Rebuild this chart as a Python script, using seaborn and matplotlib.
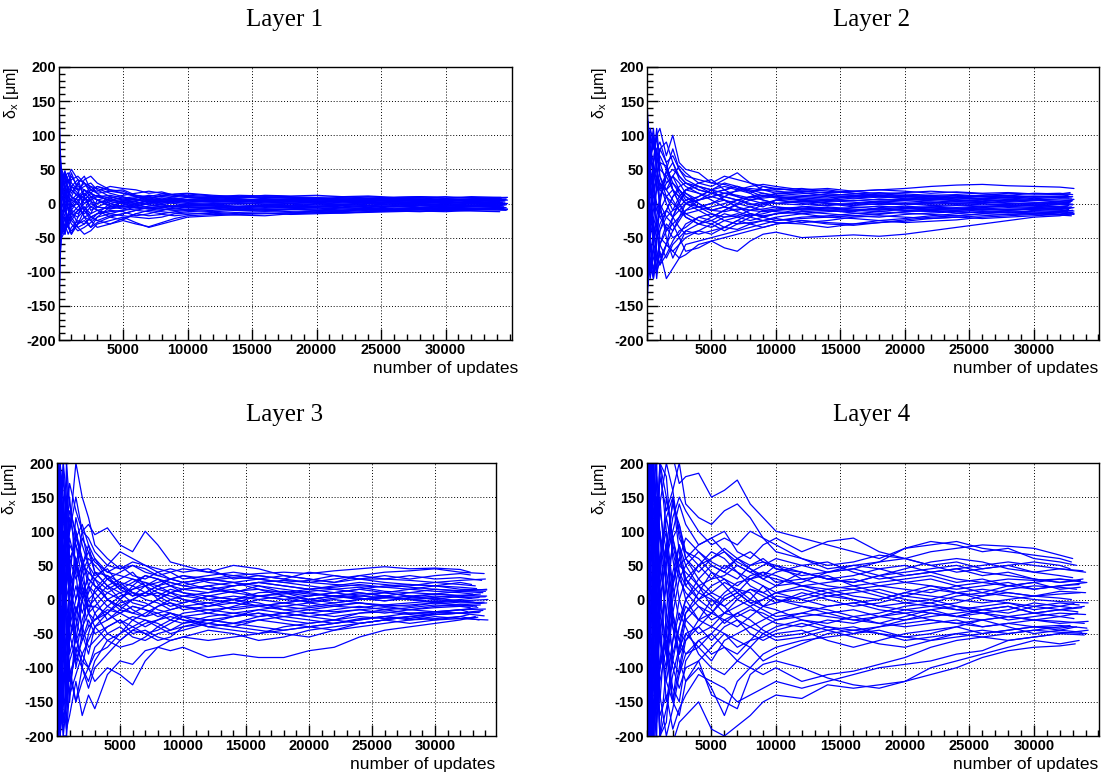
import numpy as np
import pandas as pd
import matplotlib
matplotlib.use("Agg")
import matplotlib.pyplot as plt
from matplotlib.ticker import MultipleLocator, FixedLocator
import seaborn as sns

# ---------------- data (read/estimated from the picture) ----------------
layer_titles = ["Layer 1", "Layer 2", "Layer 3", "Layer 4"]
update_grid = [0, 100, 250, 500, 750, 1000, 1500, 2000, 2500, 3000, 4000, 5000, 6000,
               7000, 8000, 9000, 10000, 12000, 14000, 16000, 18000, 20000, 22000,
               24000, 26000, 28000, 30000, 32000]

layer1_ends = [34600, 34200, 34800, 34500, 34300, 34700, 34400, 34600, 34100, 34800, 34500, 34300,
               34700, 34200, 34600, 34400, 34800, 34500, 34100, 34700, 34300, 34600, 34400, 34800,
               34500, 34700, 34300, 34600, 34800, 34200, 34500, 34700, 34400, 34600]
layer1_series = [
    [250, 60, 35, 48, 30, 40, 25, 20, 15, 10, 12, 8, 10, 5, 6, 8, 5, 6, 4, 7, 5, 6, 4, 5, 3, 4, 2, 3, 2],
    [-260, -80, -40, -30, -45, -35, -25, -30, -20, -15, -12, -10, -8, -6, -5, -8, -6, -5, -7, -4, -6, -5, -4, -6, -3, -5, -4, -3, -5],
    [180, 40, 20, 10, 25, 15, 30, 40, 20, 18, 25, 22, 20, 15, 17, 12, 10, 8, 10, 7, 6, 8, 6, 5, 7, 6, 5, 4, 5],
    [-200, -50, -20, -10, -5, -20, -35, -45, -40, -30, -25, -20, -28, -35, -30, -25, -20, -18, -16, -15, -14, -12, -10, -8, -9, -7, -6, -5, -4],
    [120, 30, 50, 35, 20, 10, 5, 12, 25, 22, 15, 10, 5, 8, 12, 10, 12, 10, 12, 11, 10, 9, 10, 8, 9, 10, 8, 9, 7],
    [-150, -30, -10, 20, 5, -10, -15, -5, -20, -25, -30, -22, -15, -10, -12, -14, -12, -10, -8, -10, -12, -13, -14, -12, -10, -11, -9, -8, -10],
    [300, 20, 10, -5, 10, 25, 15, 0, 5, 10, 5, 2, 0, 4, 3, 5, 4, 2, 3, 1, 2, 3, 1, 2, 0, 1, 2, 0, 1],
    [-300, -40, 5, 15, -10, -5, 10, 20, 10, 5, -5, -8, -3, 0, -2, -4, -3, -2, 0, -1, -2, 0, -1, 1, -1, 0, -1, 0, -1],
    [90, 10, -15, -25, -35, -40, -30, -20, -25, -15, -10, -12, -18, -15, -10, -5, -3, -2, -5, -4, -3, -5, -6, -4, -5, -3, -4, -2, -3],
    [-90, 15, 30, 40, 45, 30, 20, 25, 30, 20, 10, 5, 8, 12, 10, 14, 15, 12, 10, 9, 8, 7, 9, 10, 8, 9, 10, 8, 9],
    [60, 25, 40, 20, 5, 0, -10, -15, -5, 0, 5, 3, 6, 2, 0, 3, 2, 4, 2, 3, 4, 2, 3, 4, 5, 4, 3, 5, 4],
    [-60, -20, -30, -45, -25, -15, -20, -10, 0, -5, -8, -5, -2, -6, -8, -10, -8, -7, -9, -8, -9, -10, -8, -9, -7, -8, -6, -7, -8],
    [200, 50, 25, 15, 0, -15, -5, 5, 15, 25, 20, 15, 12, 8, 5, 7, 9, 7, 5, 6, 4, 5, 7, 6, 4, 5, 6, 5, 6],
    [-180, -60, -35, -20, -30, -10, 5, -10, -25, -35, -30, -25, -30, -34, -28, -22, -18, -16, -17, -18, -15, -14, -13, -12, -11, -12, -10, -11, -12],
    [140, 45, 10, 30, 40, 50, 35, 10, -5, -10, -15, -10, -5, 0, 2, 0, -2, 0, 1, -1, 0, -2, -1, -3, -2, -1, -2, -3, -2],
    [-120, -10, -25, 5, 20, 35, 40, 30, 15, 5, 0, -5, 0, 5, 8, 5, 2, 3, 5, 3, 2, 1, 3, 2, 1, 2, 3, 1, 2],
    [40, -20, -45, -35, -15, 0, 10, 15, 5, -10, -20, -15, -10, -12, -15, -12, -10, -12, -10, -9, -8, -10, -11, -9, -10, -8, -9, -7, -8],
    [-40, 5, 15, -10, -20, -30, -40, -35, -28, -20, -15, -18, -20, -22, -20, -15, -14, -15, -13, -12, -13, -11, -12, -10, -11, -9, -10, -9, -7],
    [230, 70, 45, 25, 15, 20, 12, 8, 2, 0, 8, 12, 15, 18, 15, 13, 10, 9, 8, 10, 9, 8, 6, 7, 8, 6, 7, 6, 5],
    [-230, -70, -15, 0, 15, 10, 0, -20, -15, 5, 10, 5, 2, -2, -5, -3, 0, -2, -4, -3, -5, -4, -3, -5, -4, -6, -5, -4, -6],
    [80, 35, 20, 45, 35, 25, 20, 30, 25, 15, 18, 20, 12, 10, 14, 12, 14, 11, 9, 12, 11, 12, 10, 11, 9, 10, 8, 10, 9],
    [-80, -45, -50, -40, -25, -25, -10, 0, 10, 12, 8, 0, -5, -8, -10, -7, -5, -6, -8, -6, -7, -8, -6, -7, -5, -6, -7, -5, -6],
    [150, 0, -30, -15, 10, 5, 15, 35, 40, 30, 20, 18, 10, 3, -2, 2, 5, 4, 6, 4, 5, 3, 4, 2, 3, 1, 2, 1, 0],
    [-150, 20, 25, 0, -35, -45, -30, -25, -35, -28, -20, -24, -15, -18, -16, -18, -16, -13, -15, -14, -16, -15, -14, -13, -12, -11, -12, -10, -9],
    [270, 90, 40, 20, 35, 20, 10, 5, 15, 10, 5, 8, 5, 3, 6, 4, 2, 4, 3, 5, 4, 3, 5, 4, 6, 5, 4, 6, 5],
    [-270, -90, -40, -20, -35, -20, -10, -5, -15, -10, -5, -3, -6, -4, -2, -5, -4, -3, -5, -3, -4, -2, -3, -1, -2, -3, -2, -1, -2],
    [200, -30, -40, 10, 30, 45, 20, -10, -20, -15, 0, 5, 8, 10, 6, 4, 6, 8, 7, 5, 7, 6, 8, 7, 6, 7, 5, 6, 7],
    [-200, 30, 40, -10, -30, -45, -20, 10, 20, 15, 0, -5, -6, -8, -6, -4, -2, -4, -6, -7, -5, -6, -8, -7, -8, -9, -7, -8, -6],
    [110, 40, -20, -40, -20, 10, 30, 10, -10, -5, 3, 0, -2, 2, 4, 2, 0, 1, -1, 1, 0, 1, -1, 0, 1, -1, 0, 1, 0],
    [-110, -40, 20, 40, 20, -10, -30, -10, 10, 5, -3, 2, 4, 6, 4, 3, 5, 3, 2, 4, 3, 4, 2, 3, 2, 3, 1, 2, 3],
    [160, 20, 45, 30, -10, -25, -35, -30, -20, -25, -18, -15, -10, -6, -8, -10, -9, -8, -10, -11, -9, -8, -10, -8, -9, -7, -8, -9, -8],
    [-160, -20, -45, -30, 10, 25, 35, 30, 20, 25, 18, 15, 10, 8, 10, 8, 6, 8, 10, 9, 8, 7, 6, 8, 7, 8, 6, 7, 8],
    [50, -10, 30, 45, 15, -5, 0, 20, 10, -5, -8, -2, 3, -2, -5, -3, -5, -6, -4, -2, -3, -4, -2, -3, -4, -2, -3, -4, -3],
    [-50, 10, -30, -45, -15, 5, 0, -20, -35, -20, -5, 2, 0, 4, 2, 6, 5, 4, 6, 5, 6, 5, 4, 6, 5, 4, 6, 5, 4],
]

layer2_ends = [33000, 32700, 33100, 32900, 32600, 33000, 32800, 33100, 32700, 32900, 33000, 32600,
               33100, 32800, 32900, 33000, 32700, 33100, 32800, 32600, 33000, 32900, 32700, 33100,
               32900, 33000, 32700, 33100, 32800, 33000, 32600, 32900, 33100, 32800, 33000, 32700]
layer2_series = [
    [150, 110, 100, 80, 100, 110, 70, 100, 60, 50, 45, 30, 40, 35, 30, 25, 20, 22, 18, 15, 12, 10, 8, 9, 7, 8, 6, 5, 4],
    [-150, -110, -80, -100, -90, -70, -110, -95, -80, -60, -55, -50, -45, -40, -35, -30, -25, -22, -20, -18, -15, -12, -10, -12, -9, -10, -8, -9, -7],
    [100, 60, 110, 90, 60, 80, 90, 60, 40, 30, 20, 15, 10, 20, 25, 28, 25, 20, 22, 18, 20, 22, 25, 27, 28, 26, 25, 24, 22],
    [-100, -40, -60, -80, -100, -85, -60, -70, -80, -75, -60, -55, -65, -70, -55, -45, -42, -50, -48, -46, -48, -45, -40, -35, -30, -25, -20, -18, -15],
    [80, 110, 70, 40, 50, 30, 20, 40, 55, 45, 30, 25, 35, 45, 30, 20, 15, 18, 20, 15, 10, 12, 10, 8, 10, 9, 11, 10, 12],
    [-80, -100, -50, -20, -40, -60, -40, -30, -50, -70, -65, -55, -50, -45, -40, -35, -30, -25, -28, -30, -25, -22, -18, -15, -12, -14, -10, -12, -10],
    [130, 40, 20, 60, 80, 50, 40, 20, 10, 20, 30, 35, 20, 10, 5, 10, 15, 12, 10, 8, 5, 6, 4, 2, 3, 1, 0, 2, 1],
    [-130, -30, -10, -40, -70, -90, -75, -55, -40, -35, -20, -15, -25, -30, -28, -25, -20, -15, -12, -10, -8, -10, -12, -10, -8, -9, -7, -8, -6],
    [60, 20, -20, 10, 40, 60, 55, 30, 20, 10, 0, -10, -5, 5, 10, 5, 0, -2, 3, 5, 2, 0, -3, -2, -4, -3, -2, -4, -3],
    [-60, 0, 40, 20, -10, -20, -35, -50, -45, -30, -20, -25, -35, -38, -30, -25, -22, -28, -25, -20, -18, -20, -22, -20, -18, -16, -15, -17, -18],
    [110, 80, 50, 30, 0, -20, -10, 10, 25, 30, 25, 20, 15, 18, 22, 20, 18, 15, 12, 14, 16, 14, 12, 13, 11, 12, 10, 11, 10],
    [-110, -70, -100, -60, -30, -10, 10, 0, -10, -20, -30, -35, -25, -20, -15, -18, -15, -12, -15, -18, -20, -16, -14, -12, -13, -11, -12, -13, -12],
    [40, -40, -70, -50, -20, 10, 30, 40, 30, 15, 5, 10, 15, 12, 8, 12, 10, 8, 6, 4, 6, 5, 7, 5, 4, 6, 5, 7, 6],
    [-40, 50, 80, 60, 30, 0, -20, -30, -20, -10, -5, 0, 5, -5, -10, -8, -5, -10, -8, -6, -4, -6, -5, -7, -5, -4, -6, -5, -7],
    [20, 90, 60, 100, 70, 40, 20, 5, -10, -15, -10, -5, 0, 5, 0, -5, 5, 10, 8, 12, 10, 8, 6, 4, 6, 3, 5, 2, 3],
    [-20, -90, -110, -70, -50, -40, -20, -10, 10, 20, 15, 5, -5, -10, -5, 0, 5, 0, -3, 0, 2, 4, 2, 0, 2, 0, -2, 0, -1],
    [150, 60, 30, 0, -30, -50, -60, -40, -25, -10, 5, 15, 20, 25, 20, 15, 10, 5, 0, -5, -8, -10, -8, -6, -8, -10, -8, -7, -9],
    [-150, -60, -20, 30, 60, 70, 50, 20, 0, -15, -25, -30, -40, -30, -20, -10, -12, -15, -20, -22, -25, -28, -26, -24, -20, -18, -16, -14, -16],
    [90, 30, 70, 50, 20, 20, 45, 60, 35, 25, 15, 10, 5, 0, -5, -10, -8, -5, -2, 0, 3, 5, 8, 10, 12, 15, 14, 13, 14],
    [-90, -20, -40, -10, 20, 30, 0, -20, -35, -45, -40, -30, -20, -15, -20, -25, -28, -30, -35, -30, -28, -26, -22, -20, -22, -20, -18, -16, -14],
    [70, 100, 40, 20, 40, 20, 10, -10, -5, 5, 10, 20, 25, 20, 15, 25, 22, 18, 15, 18, 20, 18, 15, 17, 15, 16, 14, 15, 13],
    [-70, -50, -90, -110, -80, -60, -80, -60, -50, -40, -45, -40, -35, -25, -15, -20, -25, -20, -18, -15, -12, -8, -5, -3, -5, -2, -4, -6, -5],
    [120, 20, 0, -30, -50, -30, -10, 10, 20, 5, -5, 0, 10, 5, -2, 2, 0, 3, 1, -2, -1, 1, -1, 0, -2, -1, 1, -1, 0],
    [-120, 30, 60, 90, 50, 25, 20, 30, 15, 0, -10, -20, -10, -2, 5, 0, -5, -8, -5, -8, -10, -7, -9, -8, -10, -8, -9, -10, -11],
    [140, 50, -50, 60, 100, 40, 10, 20, 10, 0, 5, 10, 15, 10, 5, 8, 10, 6, 4, 8, 10, 7, 5, 8, 6, 4, 5, 3, 4],
    [-140, -50, 50, -60, -100, -40, -10, -20, -10, 0, -5, -10, -12, -8, -10, -12, -10, -8, -6, -10, -8, -6, -8, -10, -8, -6, -7, -8, -6],
    [100, -80, -100, -30, 30, 80, 60, 20, 0, -20, -30, -20, -10, 0, 10, 15, 12, 10, 14, 12, 8, 10, 12, 9, 11, 8, 10, 9, 8],
    [-100, 80, 100, 30, -30, -80, -60, -20, 0, 20, 25, 20, 5, -5, -15, -20, -15, -12, -10, -14, -16, -12, -10, -14, -12, -13, -15, -12, -14],
    [60, 120, 40, -60, -110, -60, -30, -40, -20, 0, 10, 20, 30, 25, 15, 5, 0, 3, 0, -3, 0, -2, 0, 3, 1, 4, 2, 0, 2],
    [-60, -120, -40, 60, 110, 60, 30, 40, 20, 10, -5, -15, -20, -18, -10, -2, 5, 2, 4, 2, -2, 0, 2, -1, 0, -2, -3, -1, -2],
    [130, 100, 60, 100, 60, 0, -50, -80, -60, -40, -30, -25, -15, -20, -25, -20, -15, -8, -10, -12, -6, -4, -6, -8, -6, -4, -3, -5, -4],
    [-130, -100, -60, -100, -60, 0, 50, 80, 50, 35, 25, 15, 10, 5, 10, 12, 8, 4, 6, 10, 12, 10, 8, 6, 8, 10, 7, 9, 8],
    [90, -20, 80, 110, 50, -10, -40, -20, 5, 15, 0, -10, -5, -12, -18, -15, -10, -5, -8, -10, -12, -14, -16, -18, -15, -12, -14, -16, -15],
    [-90, 20, -80, -110, -50, 10, 40, 50, 40, 30, 20, 15, 20, 25, 18, 10, 14, 16, 12, 10, 14, 16, 18, 16, 14, 12, 15, 14, 16],
    [150, 70, 20, -30, -80, -90, -60, -70, -60, -50, -40, -45, -35, -25, -30, -35, -30, -25, -30, -32, -28, -24, -20, -18, -15, -16, -14, -12, -13],
    [-150, -70, -20, 30, 80, 90, 60, 70, 50, 40, 35, 30, 28, 22, 18, 20, 22, 18, 16, 18, 14, 12, 10, 12, 10, 11, 9, 10, 11],
]

layer3_ends = [32800, 33600, 34000, 33200, 33900, 32600, 34100, 33400, 33800, 32900, 34200, 33500,
               33000, 34000, 33300, 33700, 32700, 34100, 33600, 33100, 32800, 33900, 33400, 34000,
               33300, 33800, 32900, 34100, 33500, 33000, 33700, 34200, 32800, 33600, 34000, 33200,
               33900, 33100, 33500, 34100]
layer3_series = [
    [250, 180, 120, 200, 150, 100, 200, 150, 120, 80, 60, 45, 50, 40, 35, 30, 25, 30, 35, 38, 40, 38, 42, 45, 48, 45, 46, 44, 40],
    [-250, -190, -100, -150, -190, -170, -120, -170, -140, -160, -110, -90, -95, -75, -70, -60, -55, -60, -55, -50, -45, -40, -35, -30, -25, -28, -22, -20, -18],
    [200, 100, 150, 60, 120, 170, 130, 100, 110, 95, 105, 80, 70, 100, 80, 55, 50, 40, 35, 30, 25, 20, 15, 18, 12, 10, 15, 13, 12],
    [-200, -120, -180, -90, -50, -110, -150, -120, -100, -120, -100, -110, -125, -90, -70, -75, -70, -85, -80, -85, -85, -75, -70, -55, -45, -40, -35, -30, -25],
    [150, 200, 60, 100, 40, 60, 80, 50, 40, 30, 50, 70, 60, 50, 45, 40, 45, 40, 50, 45, 35, 30, 25, 35, 40, 42, 45, 40, 38],
    [-150, -60, -120, -200, -150, -90, -60, -80, -100, -70, -50, -40, -55, -60, -50, -45, -40, -35, -40, -45, -50, -55, -45, -35, -30, -25, -20, -15, -18],
    [100, 30, -50, 20, 80, 130, 100, 60, 30, 20, 10, 0, 15, 25, 20, 30, 25, 15, 10, 20, 15, 10, 5, 8, 10, 5, 8, 6, 5],
    [-100, -30, 50, -30, -100, -140, -110, -80, -60, -40, -30, -20, -10, -15, -25, -20, -30, -35, -40, -30, -25, -20, -25, -20, -15, -20, -18, -15, -12],
    [220, 80, 30, 140, 90, 40, 0, 40, 60, 50, 30, 20, 10, 5, 15, 20, 10, 0, 5, 0, -5, -10, -5, 0, 5, 10, 8, 12, 10],
    [-220, -70, -20, -60, -120, -60, -20, 10, 30, 20, 0, -10, -20, -25, -10, 0, 5, 10, 15, 5, 0, 5, 10, 15, 20, 22, 20, 25, 22],
    [120, 150, 190, 120, 60, 20, 40, 90, 70, 40, 20, 30, 40, 20, 0, -10, -5, 5, 0, -10, -15, -12, -8, -5, -10, -8, -5, -2, 0],
    [-120, -150, -190, -130, -80, -30, -60, -40, -20, -10, -20, -35, -25, -30, -40, -50, -45, -35, -25, -20, -30, -35, -30, -25, -28, -25, -30, -25, -30],
    [60, -50, -100, -40, 30, 80, 60, 20, -20, -40, -60, -70, -65, -55, -40, -30, -20, -15, -20, -25, -20, -15, -10, -12, -8, -10, -5, -8, -10],
    [-60, 60, 110, 60, -20, -40, 0, 30, 50, 60, 40, 35, 30, 20, 25, 30, 35, 25, 20, 25, 28, 25, 22, 20, 18, 20, 25, 28, 30],
    [180, 40, -60, -120, -60, 20, 60, 20, -10, 0, 20, 10, -5, -10, 0, 10, 15, 20, 10, 5, 8, 12, 15, 10, 5, 0, -5, -8, -10],
    [-180, -40, 80, 140, 60, 0, -30, -60, -40, -30, -10, 5, 10, 0, -5, -15, -10, -5, -15, -10, -5, 0, 5, 0, 2, 5, 0, -3, -5],
    [90, 190, 130, 50, 0, -50, -90, -60, -30, -50, -40, -30, -40, -50, -45, -35, -25, -30, -35, -30, -35, -40, -35, -30, -25, -30, -28, -25, -22],
    [-90, -180, -140, -60, 20, 50, 90, 110, 80, 60, 30, 15, 25, 35, 30, 20, 15, 10, 20, 25, 20, 15, 20, 25, 22, 18, 15, 12, 15],
    [240, 120, 60, 20, -30, -80, -40, 0, 20, 10, -10, -20, -30, -20, -10, -5, -10, -20, -25, -15, -10, -5, 0, -5, -10, -15, -12, -10, -8],
    [-240, -100, -50, 0, 50, 90, 50, 10, -20, -30, -20, -5, 0, 10, 20, 10, 0, -5, 0, 5, 0, -3, 2, 5, 3, 0, 2, -2, -4],
    [30, 90, 160, 190, 110, 60, 30, 50, 70, 55, 40, 50, 35, 30, 40, 45, 40, 45, 30, 35, 30, 40, 35, 30, 35, 30, 35, 38, 36],
    [-30, -90, -160, -190, -150, -110, -80, -100, -120, -90, -60, -50, -30, -40, -30, -20, -25, -40, -45, -50, -40, -35, -30, -35, -30, -25, -22, -20, -24],
    [160, 60, 0, -80, -120, -60, -10, -40, -70, -60, -40, -30, -50, -45, -55, -60, -55, -45, -50, -60, -55, -45, -40, -35, -30, -35, -30, -28, -26],
    [-160, -20, 90, 40, 0, 30, 120, 80, 50, 35, 45, 20, 5, 10, 5, 15, 10, 5, 0, 10, 12, 8, 5, 2, -2, 2, 5, 3, 4],
    [200, -150, 100, -60, 150, -40, 60, 0, 40, 30, 15, 25, 20, 10, 20, 25, 20, 15, 20, 25, 20, 15, 18, 22, 18, 15, 20, 18, 16],
    [-200, 150, -100, 60, -150, 40, -60, 0, -40, -30, -15, -20, -10, -15, -20, -15, -10, -15, -12, -8, -10, -15, -18, -15, -12, -15, -18, -20, -16],
    [140, -100, -200, 50, 100, 150, 40, -50, -80, -40, -20, 0, 20, 35, 30, 20, 25, 30, 25, 20, 10, 5, 10, 15, 10, 5, 0, 5, 2],
    [-140, 100, 200, -50, -100, -150, -40, 50, 80, 40, 20, 0, -15, -25, -20, -30, -35, -25, -20, -15, -20, -25, -20, -15, -20, -15, -10, -8, -5],
    [250, 50, 200, 150, -50, -100, -150, -100, -50, -20, 0, -15, -20, -10, 0, 10, 5, 0, -5, -10, -5, 0, 5, 10, 5, 0, -3, 0, 3],
    [-250, -50, -200, -150, 50, 100, 150, 100, 50, 20, 0, 10, 15, 20, 10, 5, 0, -10, -5, 5, 10, 15, 10, 5, 10, 15, 12, 10, 8],
    [80, 200, 0, -150, -60, 0, 50, 100, 90, 70, 50, 45, 55, 50, 40, 30, 35, 30, 25, 30, 35, 30, 25, 30, 30, 35, 30, 32, 28],
    [-80, -200, 0, 150, 60, 0, -50, -100, -130, -100, -80, -60, -45, -50, -60, -55, -40, -30, -35, -40, -45, -40, -45, -40, -35, -30, -25, -28, -30],
    [180, 0, -120, -180, -100, -20, 20, -20, 10, 30, 0, -10, 0, 10, 5, -5, -15, -10, 0, -5, -15, -20, -15, -10, -15, -12, -8, -10, -12],
    [-180, 0, 120, 180, 100, 20, -20, 20, -10, -10, 10, 20, 30, 25, 15, 10, 15, 20, 25, 15, 5, 0, -5, 0, 5, 0, 3, 6, 8],
    [100, 160, 200, 80, -40, -120, -80, -30, 0, -20, -50, -60, -45, -35, -30, -25, -30, -40, -35, -25, -20, -25, -30, -20, -18, -22, -18, -15, -14],
    [-100, -160, -200, -80, 40, 120, 80, 30, 0, 10, 30, 40, 50, 45, 35, 40, 30, 35, 40, 35, 30, 25, 30, 35, 30, 28, 25, 22, 20],
    [230, -200, -150, 0, 200, 50, -100, -50, 20, 0, -30, -15, 0, -5, -15, -20, -25, -20, -10, 0, 5, -5, -10, -5, -8, -5, -2, -5, -4],
    [-230, 200, 150, 0, -200, -50, 100, 50, -20, 15, 35, 25, 10, 5, 10, 0, -5, 5, 12, 15, 10, 0, 5, 2, -2, 3, 8, 5, 6],
    [50, 120, -80, -200, -200, -130, -70, -90, -100, -80, -70, -50, -40, -30, -35, -45, -35, -30, -25, -20, -25, -30, -35, -28, -25, -20, -22, -20, -19],
    [-50, -120, 80, 200, 200, 140, 90, 60, 20, 40, 35, 15, 5, 20, 30, 25, 20, 28, 32, 30, 25, 28, 35, 30, 25, 22, 20, 15, 14],
]

layer4_ends = [32900, 33500, 33000, 34200, 33800, 33200, 34000, 32800, 33600, 34100, 33300, 33900,
               32900, 34200, 33400, 33700, 33100, 34000, 33500, 32800, 33300, 33900, 33600, 34100,
               33200, 34000, 33500, 32900, 33800, 34200, 33100, 33600, 34000, 33300, 33700, 32800,
               34100, 33400, 33900, 33000]
layer4_series = [
    [300, 250, 150, 280, 220, 200, 230, 210, 170, 180, 185, 150, 160, 175, 140, 120, 100, 90, 80, 70, 60, 75, 80, 85, 75, 70, 65, 60, 55],
    [-300, -250, -150, -280, -220, -200, -230, -210, -180, -170, -150, -190, -200, -185, -170, -150, -140, -145, -125, -130, -125, -120, -100, -90, -80, -70, -60, -65, -60],
    [250, 120, 220, 150, 100, 180, 130, 160, 200, 140, 120, 110, 130, 140, 120, 90, 80, 60, 50, 55, 65, 60, 70, 75, 80, 78, 75, 65, 60],
    [-250, -100, -220, -180, -110, -170, -140, -190, -160, -140, -110, -120, -130, -150, -140, -130, -120, -130, -120, -110, -100, -95, -90, -80, -75, -60, -55, -50, -45],
    [200, 280, 100, 60, 150, 90, 60, 100, 140, 110, 80, 90, 100, 70, 60, 80, 90, 70, 85, 90, 70, 60, 50, 55, 45, 50, 40, 45, 42],
    [-200, -280, -120, -60, -160, -100, -60, -100, -130, -100, -90, -140, -150, -160, -110, -95, -90, -100, -115, -125, -130, -120, -110, -100, -85, -75, -70, -68, -65],
    [150, 60, -40, 80, 180, 130, 70, 20, 60, 90, 70, 50, 40, 60, 45, 30, 40, 50, 55, 40, 30, 35, 40, 30, 25, 30, 28, 30, 25],
    [-150, -60, 40, -90, -180, -120, -70, -20, -60, -80, -60, -80, -70, -90, -100, -80, -70, -60, -55, -50, -45, -55, -60, -55, -50, -45, -40, -42, -40],
    [280, 150, 50, 0, 90, 200, 150, 90, 50, 40, 20, 30, 50, 40, 20, 10, 20, 40, 30, 25, 35, 40, 45, 50, 40, 35, 30, 25, 28],
    [-280, -150, -50, 0, -90, -200, -160, -110, -70, -50, -40, -60, -40, -30, -50, -60, -50, -45, -60, -70, -60, -50, -45, -40, -50, -45, -40, -38, -42],
    [100, 220, 260, 170, 80, 20, 80, 140, 110, 60, 40, 60, 70, 55, 45, 35, 50, 30, 20, 15, 20, 25, 20, 10, 5, 15, 20, 18, 15],
    [-100, -220, -260, -170, -80, -20, -80, -150, -170, -120, -90, -70, -50, -60, -70, -90, -80, -65, -50, -45, -40, -35, -30, -35, -40, -35, -30, -32, -35],
    [60, -80, -150, -60, 40, 100, 40, -30, -60, -20, 10, 0, -20, -10, 0, 20, 10, 0, -10, -5, 0, 10, 5, 0, -5, 0, 5, 2, 0],
    [-60, 80, 150, 60, -40, -100, -40, 30, 60, 30, 0, 10, 25, 15, 10, -10, -5, 5, 15, 20, 10, 0, -5, 5, 10, 5, 0, -3, -5],
    [220, 40, -100, -200, -120, -50, 20, 80, 40, 20, 50, 70, 60, 40, 30, 35, 30, 20, 10, 0, -10, -5, 0, -10, -15, -10, -20, -15, -18],
    [-220, -40, 100, 200, 120, 50, -20, -80, -40, -10, -30, -40, -20, 0, 15, 10, 0, -10, -20, -15, -25, -30, -25, -20, -15, -20, -10, -15, -12],
    [180, 260, 200, 100, 20, -60, -120, -60, -20, -40, -80, -100, -110, -90, -70, -50, -40, -30, -40, -50, -40, -30, -20, -25, -30, -25, -30, -25, -28],
    [-180, -260, -200, -100, -20, 60, 120, 70, 30, 50, 70, 55, 45, 60, 70, 55, 45, 40, 30, 35, 45, 50, 40, 45, 50, 55, 50, 45, 40],
    [120, 0, -180, -250, -150, -100, -50, 0, 50, 60, 30, 10, 0, 10, 30, 40, 35, 20, 25, 30, 20, 15, 10, 20, 25, 20, 15, 20, 22],
    [-120, 0, 180, 250, 160, 90, 20, -40, -90, -120, -100, -130, -170, -120, -100, -110, -100, -120, -110, -105, -95, -85, -70, -60, -55, -50, -45, -40, -38],
    [260, 200, 130, 30, -40, 0, 60, 120, 150, 130, 100, 80, 90, 80, 100, 90, 70, 60, 45, 50, 55, 75, 85, 80, 70, 75, 60, 55, 50],
    [-260, -200, -130, -30, 40, 0, -70, -130, -150, -90, -60, -50, -70, -80, -60, -40, -30, -20, -25, -30, -35, -25, -15, -10, -20, -25, -20, -15, -10],
    [40, 130, 220, 130, 40, 140, 200, 160, 90, 70, 60, 40, 20, 0, -10, 0, 10, 15, 5, 10, 15, 5, 0, 10, 15, 10, 5, 8, 10],
    [-40, -130, -220, -130, -40, -140, -200, -160, -110, -80, -70, -50, -30, -20, -30, -45, -55, -50, -40, -45, -50, -60, -55, -50, -45, -50, -45, -48, -50],
    [200, -100, 150, -50, 100, 20, -80, 40, 80, 30, 10, 40, 30, 20, 35, 40, 25, 30, 35, 20, 25, 30, 35, 25, 30, 20, 25, 30, 28],
    [-200, 100, -150, 50, -100, -20, 80, -40, -80, -30, -10, -30, -20, -25, -15, -20, -30, -25, -20, -30, -25, -20, -15, -25, -20, -30, -25, -20, -22],
    [150, -200, 50, 100, -150, 60, 100, 20, -30, 0, 20, 5, -10, 5, 15, 5, -5, 10, 0, -10, -5, 5, 15, 10, 0, -5, -10, -5, -8],
    [-150, 200, -50, -100, 150, -60, -100, -20, 30, 10, -10, -20, 5, 15, 0, -10, 5, 0, 10, 15, 5, -5, -10, -15, -10, -5, -15, -10, -12],
    [280, 50, -200, 100, 200, -30, -150, -90, -40, 0, 30, 50, 40, 30, 50, 60, 45, 35, 40, 50, 45, 35, 40, 45, 35, 40, 30, 25, 30],
    [-280, -50, 200, -100, -200, 30, 150, 90, 40, 0, -30, -20, 0, 10, -5, -15, -25, -20, -10, -5, -15, -20, -30, -35, -30, -25, -30, -35, -32],
    [120, 250, -50, -180, 50, 150, 20, -90, -110, -60, -40, -20, -30, -40, -25, -10, -15, -30, -35, -25, -20, -10, -5, -15, -20, -15, -5, -10, -6],
    [-120, -250, 50, 180, -50, -150, -20, 90, 110, 70, 50, 30, 35, 50, 40, 30, 20, 25, 40, 45, 35, 25, 30, 20, 10, 20, 25, 15, 18],
    [60, 150, 250, 100, -100, -200, -100, 20, 80, 50, 20, -10, 10, 25, 30, 20, 0, -5, 5, 0, -10, -15, -10, -5, 5, 10, 5, 12, 10],
    [-60, -150, -250, -100, 100, 200, 100, -20, -80, -60, -30, 0, -10, -30, -40, -30, -20, -10, -15, -25, -35, -40, -35, -30, -40, -35, -40, -45, -40],
    [220, -150, -250, -50, 150, 100, -50, -150, -100, -50, -70, -90, -60, -50, -40, -50, -60, -55, -45, -40, -50, -55, -50, -40, -30, -40, -50, -45, -48],
    [-220, 150, 250, 50, -150, -100, 50, 150, 100, 60, 80, 90, 70, 50, 40, 50, 60, 50, 40, 45, 55, 60, 50, 40, 45, 50, 55, 50, 45],
    [100, -50, 100, 200, 50, -50, -120, -150, -70, -20, 0, 20, 30, 10, -5, 0, 10, 20, 15, 5, 0, 10, 20, 15, 20, 25, 15, 20, 25],
    [-100, 50, -100, -200, -50, 50, 120, 150, 70, 20, 0, -15, -35, -20, -10, -25, -35, -40, -30, -35, -25, -15, -20, -25, -15, -10, -20, -25, -20],
    [250, 180, -180, -250, 0, 200, 180, 60, 0, -30, -50, -40, -50, -70, -60, -55, -45, -35, -45, -55, -65, -70, -60, -50, -55, -60, -55, -50, -52],
    [-250, -180, 180, 250, 0, -200, -180, -60, 0, 30, 50, 60, 75, 60, 50, 55, 50, 40, 30, 25, 35, 45, 55, 60, 55, 45, 40, 35, 32],
]

x_ticks = [5000, 10000, 15000, 20000, 25000, 30000]
x_tick_labels = ["5000", "10000", "15000", "20000", "25000", "30000"]
y_ticks = [-200, -150, -100, -50, 0, 50, 100, 150, 200]
y_tick_labels = ["-200", "-150", "-100", "-50", "0", "50", "100", "150", "200"]
x_maxima = [35150, 35040, 34840, 35040]

# ---------------- styling ----------------
sns.set_style("white")
plt.rcParams["font.family"] = ["Liberation Sans", "DejaVu Sans"]
plt.rcParams["text.color"] = "black"
plt.rcParams["axes.labelcolor"] = "black"
plt.rcParams["xtick.color"] = "black"
plt.rcParams["ytick.color"] = "black"

W, H = 1103, 773
fig = plt.figure(figsize=(W / 100, H / 100), dpi=100)

# axes rectangles in pixels: (left, top, right, bottom)
rects_px = [(58.5, 67, 512, 340), (647, 67, 1099, 340),
            (57, 463, 496, 736), (647, 463, 1099, 736)]
xlabel_right_px = [518, 1098, 495, 1098]
xlabel_below_px = [28, 28, 28, 28]

all_series = [layer1_series, layer2_series, layer3_series, layer4_series]
all_ends = [layer1_ends, layer2_ends, layer3_ends, layer4_ends]
title_pos = [(285, 20), (872, 20), (285, 415), (872, 415)]

for k in range(4):
    l, t, r, b = rects_px[k]
    ax = fig.add_axes([l / W, 1 - b / H, (r - l) / W, (b - t) / H])
    rows = []
    for i, vals in enumerate(all_series[k]):
        xs = update_grid + [all_ends[k][i]]
        for xv, yv in zip(xs, vals):
            rows.append((i, xv, yv))
    df = pd.DataFrame(rows, columns=["line", "updates", "delta"])
    sns.lineplot(data=df, x="updates", y="delta", units="line", estimator=None,
                 color="#0000ff", linewidth=0.9, ax=ax, legend=False, sort=False)

    ax.set_xlim(0, x_maxima[k])
    ax.set_ylim(-200, 200)
    ax.xaxis.set_major_locator(FixedLocator(x_ticks))
    ax.set_xticklabels(x_tick_labels)
    ax.xaxis.set_minor_locator(MultipleLocator(1000))
    ax.yaxis.set_major_locator(FixedLocator(y_ticks))
    ax.set_yticklabels(y_tick_labels)
    ax.yaxis.set_minor_locator(MultipleLocator(10))
    ax.tick_params(axis="both", which="major", direction="in", length=8, width=1,
                   labelsize=10.5, color="black", labelcolor="black",
                   bottom=True, left=True, top=False, right=False, pad=2)
    ax.tick_params(axis="both", which="minor", direction="in", length=4, width=1,
                   color="black", bottom=True, left=True, top=False, right=False)
    for lab in ax.get_xticklabels() + ax.get_yticklabels():
        lab.set_fontweight("bold")
    ax.grid(True, which="major", linestyle=(0, (1, 2)), color="black", linewidth=0.7)
    ax.grid(False, which="minor")
    for sp in ax.spines.values():
        sp.set_color("black")
        sp.set_linewidth(1.0)

    ax.set_xlabel("number of updates", fontsize=12.5, labelpad=0, va="center", ha="right")
    ax.xaxis.set_label_coords((xlabel_right_px[k] - l) / (r - l),
                              -xlabel_below_px[k] / (b - t))
    ax.set_ylabel(r"δ$_\mathregular{x}$ [μm]", fontsize=11.5, loc="top", labelpad=4)

    tx, ty = title_pos[k]
    fig.text(tx / W, 1 - ty / H, layer_titles[k], ha="center", va="center",
             fontsize=18, family=["Liberation Serif", "DejaVu Serif"])

fig.savefig("out.png", dpi=100)
